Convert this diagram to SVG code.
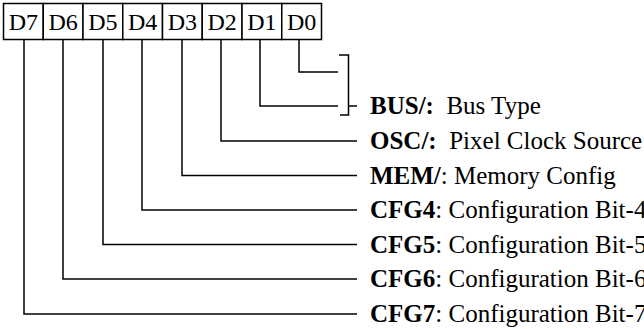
<svg xmlns="http://www.w3.org/2000/svg" width="644" height="329" viewBox="0 0 644 329">
<style>
.box{fill:#fff;stroke:#000;stroke-width:1.5}
.bt{font-family:"Liberation Serif","Times New Roman",serif;font-size:24px;fill:#000;text-anchor:middle}
.lb{font-family:"Liberation Serif","Times New Roman",serif;font-size:25px;fill:#000}
.b{font-weight:bold}
.c{fill:none;stroke:#000;stroke-width:1.5}
</style>
<rect width="644" height="329" fill="#fff"/>
<g id="register">
<g id="bit-d7"><rect class="box" x="3.5" y="3.5" width="39.75" height="36"/><text class="bt" x="23.4" y="29.5">D7</text></g>
<g id="bit-d6"><rect class="box" x="43.25" y="3.5" width="39.75" height="36"/><text class="bt" x="63.1" y="29.5">D6</text></g>
<g id="bit-d5"><rect class="box" x="83" y="3.5" width="39.75" height="36"/><text class="bt" x="102.9" y="29.5">D5</text></g>
<g id="bit-d4"><rect class="box" x="122.75" y="3.5" width="39.75" height="36"/><text class="bt" x="142.6" y="29.5">D4</text></g>
<g id="bit-d3"><rect class="box" x="162.5" y="3.5" width="39.75" height="36"/><text class="bt" x="182.4" y="29.5">D3</text></g>
<g id="bit-d2"><rect class="box" x="202.25" y="3.5" width="39.75" height="36"/><text class="bt" x="222.1" y="29.5">D2</text></g>
<g id="bit-d1"><rect class="box" x="242" y="3.5" width="39.75" height="36"/><text class="bt" x="261.9" y="29.5">D1</text></g>
<g id="bit-d0"><rect class="box" x="281.75" y="3.5" width="39.75" height="36"/><text class="bt" x="301.6" y="29.5">D0</text></g>
</g>
<g id="connectors">
<path class="c" d="M299,39.5 V72 H338"/>
<path class="c" d="M260,39.5 V106 H338"/>
<path class="c" d="M339,55 H348.5 V115 H340 M348.5,106 H357"/>
<path class="c" d="M221,39.5 V141 H357"/>
<path class="c" d="M182,39.5 V175.5 H357"/>
<path class="c" d="M142,39.5 V210 H357"/>
<path class="c" d="M103,39.5 V244.5 H357"/>
<path class="c" d="M63,39.5 V279 H357"/>
<path class="c" d="M24,39.5 V314 H357"/>
</g>
<g id="label-bus"><text class="lb" x="370" y="114" xml:space="preserve"><tspan class="b">BUS/:</tspan>  Bus Type</text></g>
<g id="label-osc"><text class="lb" x="370" y="149" xml:space="preserve"><tspan class="b">OSC/:</tspan>  Pixel Clock Source</text></g>
<g id="label-mem"><text class="lb" x="370" y="183.5" xml:space="preserve"><tspan class="b">MEM/</tspan>: Memory Config</text></g>
<g id="label-cfg4"><text class="lb" x="370" y="218" xml:space="preserve"><tspan class="b">CFG4</tspan>: Configuration Bit-4</text></g>
<g id="label-cfg5"><text class="lb" x="370" y="252.5" xml:space="preserve"><tspan class="b">CFG5</tspan>: Configuration Bit-5</text></g>
<g id="label-cfg6"><text class="lb" x="370" y="287" xml:space="preserve"><tspan class="b">CFG6</tspan>: Configuration Bit-6</text></g>
<g id="label-cfg7"><text class="lb" x="370" y="322" xml:space="preserve"><tspan class="b">CFG7</tspan>: Configuration Bit-7</text></g>
</svg>
